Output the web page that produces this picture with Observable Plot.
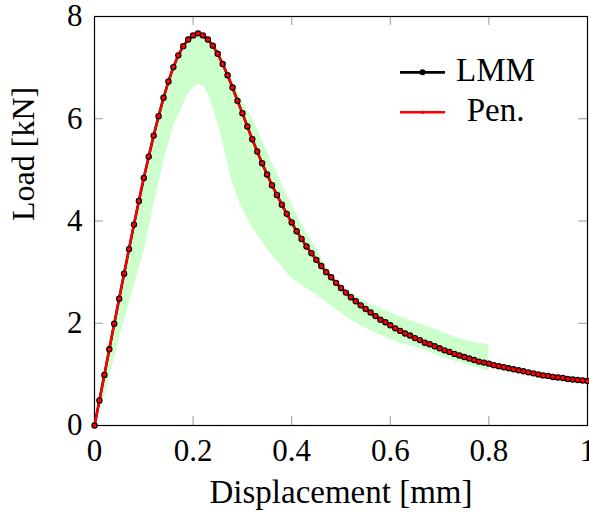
<!DOCTYPE html>
<html><head><meta charset="utf-8">
<script src="https://cdn.jsdelivr.net/npm/d3@7"></script>
<script src="https://cdn.jsdelivr.net/npm/@observablehq/plot@0.6"></script>
<style>html,body{margin:0;padding:0;background:#fff;}#chart{width:589px;height:520px;}</style>
</head><body><div id="chart"></div>
<script>
// ---- data ----
const displacement = [0.00,0.01,0.02,0.03,0.04,0.05,0.06,0.07,0.08,0.09,
  0.10,0.11,0.12,0.13,0.14,0.15,0.16,0.17,0.18,0.19,
  0.20,0.21,0.22,0.23,0.24,0.25,0.26,0.27,0.28,0.29,
  0.30,0.31,0.32,0.33,0.34,0.35,0.36,0.37,0.38,0.39,
  0.40,0.41,0.42,0.43,0.44,0.45,0.46,0.47,0.48,0.49,
  0.50,0.51,0.52,0.53,0.54,0.55,0.56,0.57,0.58,0.59,
  0.60,0.61,0.62,0.63,0.64,0.65,0.66,0.67,0.68,0.69,
  0.70,0.71,0.72,0.73,0.74,0.75,0.76,0.77,0.78,0.79,
  0.80,0.81,0.82,0.83,0.84,0.85,0.86,0.87,0.88,0.89,
  0.90,0.91,0.92,0.93,0.94,0.95,0.96,0.97,0.98,0.99,1.00];
const loadLMM = [0,0.49,0.99,1.49,1.99,2.48,2.97,3.45,3.93,4.39,
  4.84,5.26,5.67,6.05,6.41,6.73,7.01,7.24,7.42,7.55,
  7.63,7.67,7.63,7.55,7.43,7.27,7.07,6.85,6.61,6.35,
  6.11,5.85,5.60,5.36,5.13,4.91,4.70,4.51,4.32,4.14,
  3.97,3.80,3.65,3.50,3.37,3.24,3.12,3.00,2.90,2.79,
  2.69,2.60,2.51,2.43,2.35,2.28,2.21,2.14,2.07,2.02,
  1.96,1.90,1.85,1.80,1.76,1.71,1.67,1.62,1.59,1.55,
  1.51,1.47,1.44,1.40,1.37,1.34,1.31,1.28,1.25,1.23,
  1.21,1.18,1.16,1.14,1.12,1.10,1.08,1.06,1.04,1.02,
  1.00,0.98,0.97,0.95,0.94,0.93,0.91,0.90,0.89,0.88,0.87];
const loadPen = [0,0.49,0.99,1.49,1.99,2.48,2.97,3.45,3.93,4.39,
  4.84,5.26,5.67,6.05,6.41,6.73,7.01,7.24,7.42,7.55,
  7.63,7.67,7.63,7.55,7.43,7.27,7.07,6.85,6.61,6.35,
  6.11,5.85,5.60,5.36,5.13,4.91,4.70,4.51,4.32,4.14,
  3.97,3.80,3.65,3.50,3.37,3.24,3.12,3.00,2.90,2.79,
  2.69,2.60,2.51,2.43,2.35,2.28,2.21,2.14,2.07,2.02,
  1.96,1.90,1.85,1.80,1.76,1.71,1.67,1.62,1.59,1.55,
  1.51,1.47,1.44,1.40,1.37,1.34,1.31,1.28,1.25,1.23,
  1.21,1.18,1.16,1.14,1.12,1.10,1.08,1.06,1.04,1.02,
  1.00,0.98,0.97,0.95,0.94,0.93,0.91,0.90,0.89,0.88,0.87];
// experimental envelope (green band)
const bandX = [0,0.02,0.04,0.06,0.08,0.10,0.11,0.12,0.14,0.16,0.18,0.19,0.20,0.21,0.22,0.23,0.24,0.25,0.26,0.27,0.28,0.29,
  0.30,0.31,0.32,0.33,0.34,0.35,0.36,0.37,0.38,0.39,0.40,0.41,0.42,0.43,0.44,0.45,0.46,0.47,0.48,0.49,
  0.50,0.52,0.54,0.56,0.58,0.60,0.62,0.64,0.66,0.68,0.70,0.72,0.74,0.76,0.78,0.80];
const bandLow = [0,0.55,1.30,2.03,2.72,3.38,3.85,4.30,5.15,5.85,6.28,6.48,6.60,6.66,6.65,6.50,6.22,5.92,5.55,5.12,4.75,4.48,
  4.25,4.05,3.88,3.73,3.60,3.45,3.33,3.22,3.11,2.99,2.88,2.81,2.75,2.68,2.62,2.55,2.48,2.41,2.34,2.27,
  2.20,2.07,1.95,1.85,1.77,1.68,1.61,1.56,1.51,1.43,1.35,1.29,1.23,1.17,1.12,1.06];
const bandHigh = [0,0.99,1.99,2.97,3.93,4.84,5.26,5.67,6.41,7.01,7.42,7.55,7.63,7.66,7.63,7.55,7.43,7.27,7.08,6.88,6.72,6.54,
  6.34,6.16,6.02,5.82,5.58,5.37,5.15,4.95,4.72,4.53,4.34,4.13,3.94,3.77,3.63,3.47,3.29,3.10,2.92,2.80,
  2.72,2.60,2.48,2.37,2.29,2.20,2.12,2.06,1.99,1.92,1.85,1.77,1.70,1.65,1.61,1.58];
const xTicks = [0,0.2,0.4,0.6,0.8,1];
const xTickLabels = ["0","0.2","0.4","0.6","0.8","1"];
const yTicks = [0,2,4,6,8];
const yTickLabels = ["0","2","4","6","8"];
const xLabel = "Displacement [mm]";
const yLabel = "Load [kN]";
const seriesNames = ["LMM","Pen."];

// ---- layout ----
const W = 589, H = 520, mL = 94, mR = 2, mT = 16, mB = 95;
const fW = W - mL - mR, fH = H - mT - mB, tickLen = 9;
const font = "'Liberation Serif', 'Times New Roman', serif";

const lmm = displacement.map((x, i) => ({x, y: loadLMM[i]}));
const pen = displacement.map((x, i) => ({x, y: loadPen[i]}));
const band = bandX.map((x, i) => ({x, lo: bandLow[i], hi: bandHigh[i]}));
const innerX = xTicks.slice(1, -1), innerY = yTicks.slice(1, -1);

const plot = Plot.plot({
  width: W, height: H, marginLeft: mL, marginRight: mR, marginTop: mT, marginBottom: mB,
  style: {fontFamily: font, background: "white", color: "black"},
  x: {domain: [0, 1]},
  y: {domain: [0, 8]},
  marks: [
    Plot.areaY(band, {x: "x", y1: "lo", y2: "hi", fill: "#ccffcc", curve: "linear"}),
    Plot.tickX(innerX, {x: d => d, stroke: "#999", strokeWidth: 1, insetTop: fH - tickLen}),
    Plot.tickX(innerX, {x: d => d, stroke: "#999", strokeWidth: 1, insetBottom: fH - tickLen}),
    Plot.tickY(innerY, {y: d => d, stroke: "#999", strokeWidth: 1, insetRight: fW - tickLen}),
    Plot.tickY(innerY, {y: d => d, stroke: "#999", strokeWidth: 1, insetLeft: fW - tickLen}),
    Plot.frame({stroke: "black", strokeWidth: 1.2}),
    Plot.line(lmm, {x: "x", y: "y", stroke: "black", strokeWidth: 2.6}),
    Plot.line(pen, {x: "x", y: "y", stroke: "red", strokeWidth: 2.4}),
    Plot.dot(lmm, {x: "x", y: "y", r: 3.2, fill: "black", stroke: "none"}),
    Plot.dot(pen, {x: "x", y: "y", r: 2.1, fill: "red", stroke: "none"}),
    Plot.axisX({ticks: xTicks, tickFormat: d => xTickLabels[xTicks.indexOf(d)], tickSize: 0, tickPadding: 13, fontSize: 31, label: null}),
    Plot.axisY({ticks: yTicks, tickFormat: d => yTickLabels[yTicks.indexOf(d)], tickSize: 0, tickPadding: 12, fontSize: 31, label: null}),
    Plot.text([xLabel], {frameAnchor: "bottom", dy: 77, fontSize: 33, fill: "black"}),
    Plot.text([yLabel], {frameAnchor: "left", dx: -71, rotate: -90, fontSize: 32, fill: "black"})
  ]
});

// ---- legend (inside the plot, top right) ----
const svg = d3.select(plot);
const leg = svg.append("g").attr("font-family", font).attr("font-size", 33);
const legStyles = [
  {color: "black", lw: 2.7, r: 3.0, lineY: 72.3, textY: 80.7},
  {color: "red", lw: 2.5, r: 1.8, lineY: 112.3, textY: 121}
];
seriesNames.forEach((name, i) => {
  const s = legStyles[i];
  leg.append("line").attr("x1", 400).attr("x2", 445).attr("y1", s.lineY).attr("y2", s.lineY)
    .attr("stroke", s.color).attr("stroke-width", s.lw);
  leg.append("circle").attr("cx", 422.5).attr("cy", s.lineY).attr("r", s.r).attr("fill", s.color);
  leg.append("text").attr("x", 495.5).attr("y", s.textY).attr("text-anchor", "middle").attr("fill", "black").text(name);
});

document.getElementById("chart").appendChild(plot);
</script>
</body></html>
